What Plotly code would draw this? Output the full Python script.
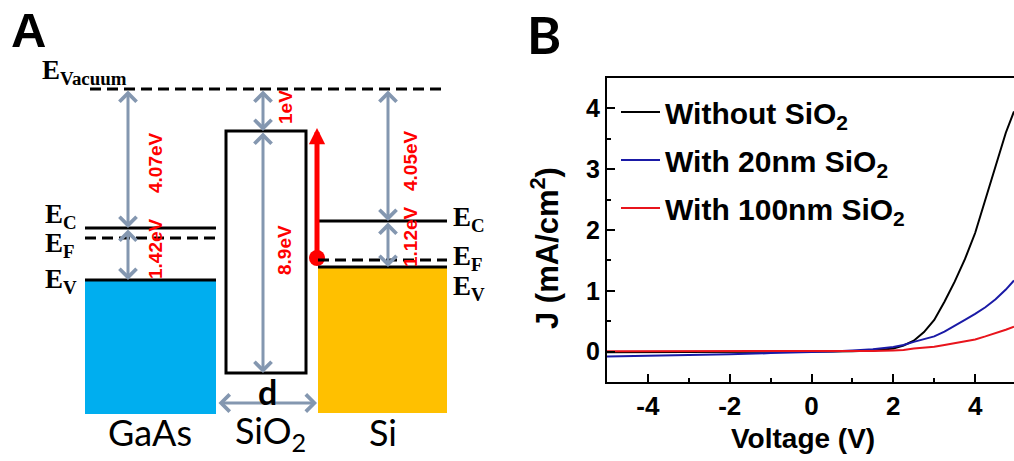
import plotly.graph_objects as go

W, H = 1014, 461

# ---------------- Panel B data (J-V curves) ----------------
voltage = [-5, -4, -3, -2, -1, 0, 0.5, 1, 1.5, 2, 2.25, 2.5, 2.75, 3, 3.25, 3.5, 3.75, 4, 4.25, 4.5, 4.75, 4.95]
j_without = [-0.01, -0.01, -0.01, -0.01, 0, 0, 0, 0.005, 0.02, 0.05, 0.1, 0.18, 0.32, 0.52, 0.82, 1.15, 1.52, 1.95, 2.5, 3.07, 3.6, 3.95]
j_20nm = [-0.08, -0.07, -0.06, -0.045, -0.025, -0.01, 0, 0.02, 0.04, 0.075, 0.11, 0.16, 0.2, 0.25, 0.33, 0.42, 0.52, 0.62, 0.73, 0.86, 1.02, 1.17]
j_100nm = [0.005, 0.005, 0.005, 0.0, 0.0, 0.0, 0.0, 0.005, 0.01, 0.02, 0.025, 0.05, 0.06, 0.08, 0.11, 0.14, 0.17, 0.2, 0.25, 0.3, 0.36, 0.41]
series_names = ["Without SiO<sub>2</sub>", "With 20nm SiO<sub>2</sub>", "With 100nm SiO<sub>2</sub>"]
series_colors = ["#000000", "#1a1aa6", "#e8141c"]
x_tickvals = [-4, -2, 0, 2, 4]
x_ticktext = ["-4", "-2", "0", "2", "4"]
y_tickvals = [0, 1, 2, 3, 4]
y_ticktext = ["0", "1", "2", "3", "4"]

# ---------------- Panel A data (schematic band diagram, drawing units) ----------------
materials = ["GaAs", "SiO<sub>2</sub>", "Si"]
mat_left = [85, 226, 318]
mat_right = [216, 306, 447]
level_ec = [228, 131, 221]
level_ev = [280, 373, 267]
level_ef = [238, None, 260]
level_vacuum = 89
block_bottom = [414, None, 413]
block_colors = ["#00aeef", None, "#ffc000"]
gap_arrow_x = [128, 263, 388]
affinity_labels = ["4.07eV", "1eV", "4.05eV"]
affinity_label_pos = [(155, 163), (285, 107), (410, 161)]
gap_labels = ["1.42eV", "8.9eV", "1.12eV"]
gap_label_pos = [(155, 249), (284, 250), (410, 237)]
mat_label_x = [150, 270, 383]
mat_label_y = 432
d_arrow_y = 403
hole_x, hole_y, hole_top = 317, 258, 128

SERIF = "Liberation Serif, Times New Roman, serif"
SANS = "Liberation Sans, Arial, sans-serif"
GRAY = "#8497b0"

fig = go.Figure()

for name, col, js in zip(series_names, series_colors, [j_without, j_20nm, j_100nm]):
    fig.add_trace(go.Scatter(x=voltage, y=js, mode="lines", name=name, legendgroup=name,
                             line=dict(color=col, width=2), xaxis="x", yaxis="y"))

# red dot (hole) in panel A
fig.add_trace(go.Scatter(x=[hole_x], y=[hole_y], mode="markers", showlegend=False,
                         marker=dict(color="#ff0000", size=16), xaxis="x2", yaxis="y2"))

shapes = []
annotations = []

def px_x(p):
    return p / W

def px_y(p):
    return 1 - p / H

# blocks (filled)
for i in range(3):
    if block_colors[i]:
        shapes.append(dict(type="rect", xref="x2", yref="y2", x0=mat_left[i], x1=mat_right[i],
                           y0=level_ev[i], y1=block_bottom[i], fillcolor=block_colors[i],
                           line=dict(width=0), layer="below"))
# SiO2 box
shapes.append(dict(type="rect", xref="x2", yref="y2", x0=mat_left[1], x1=mat_right[1],
                   y0=level_ec[1], y1=level_ev[1], line=dict(color="black", width=3)))
# vacuum level
shapes.append(dict(type="line", xref="x2", yref="y2", x0=90, x1=mat_right[2], y0=level_vacuum,
                   y1=level_vacuum, line=dict(color="black", width=3, dash="11px,6px")))
for i in [0, 2]:
    shapes.append(dict(type="line", xref="x2", yref="y2", x0=mat_left[i], x1=mat_right[i],
                       y0=level_ec[i], y1=level_ec[i], line=dict(color="black", width=3)))
    shapes.append(dict(type="line", xref="x2", yref="y2", x0=mat_left[i], x1=mat_right[i],
                       y0=level_ev[i], y1=level_ev[i], line=dict(color="black", width=3)))
    shapes.append(dict(type="line", xref="x2", yref="y2", x0=mat_left[i], x1=mat_right[i],
                       y0=level_ef[i], y1=level_ef[i], line=dict(color="black", width=3, dash="11px,6px")))

def arrow2(x0, y0, x1, y1, color=GRAY, width=3, size=1.1, head=4, side="end+start"):
    annotations.append(dict(xref="x2", yref="y2", axref="x2", ayref="y2", x=x1, y=y1, ax=x0, ay=y0,
                            text="", showarrow=True, arrowhead=head, startarrowhead=head,
                            arrowside=side, arrowwidth=width, arrowsize=size,
                            startarrowsize=size, arrowcolor=color))

for i in range(3):
    arrow2(gap_arrow_x[i], level_vacuum, gap_arrow_x[i], level_ec[i])
    arrow2(gap_arrow_x[i], level_ec[i], gap_arrow_x[i], level_ev[i])
# d arrow
arrow2(mat_right[0] + 1, d_arrow_y, mat_left[2] - 1, d_arrow_y)
# red hole arrow
arrow2(hole_x, hole_y, hole_x, hole_top, color="#ff0000", width=5, size=0.65, head=2, side="end")

for lab, (x, y) in zip(affinity_labels + gap_labels, affinity_label_pos + gap_label_pos):
    annotations.append(dict(xref="x2", yref="y2", x=x, y=y, text=lab, showarrow=False, textangle=-90,
                            xanchor="center", yanchor="middle",
                            font=dict(family=SANS, size=19, color="#ff0000", weight="bold")))

def elabel(x, y, sub, anchor="left"):
    annotations.append(dict(xref="x2", yref="y2", x=x, y=y, text="E<sub>%s</sub>" % sub, showarrow=False,
                            xanchor=anchor, yanchor="middle",
                            font=dict(family=SERIF, size=27, color="black", weight="bold")))

elabel(40, 72, "Vacuum")
elabel(43, 216, "C")
elabel(43, 245, "F")
elabel(43, 281, "V")
elabel(451, 219, "C")
elabel(451, 258, "F")
elabel(451, 288, "V")

for lab, x in zip(materials, mat_label_x):
    annotations.append(dict(xref="x2", yref="y2", x=x, y=mat_label_y, text=lab, showarrow=False,
                            xanchor="center", yanchor="middle",
                            font=dict(family="Lato, Open Sans, sans-serif", size=36, color="black")))
annotations.append(dict(xref="x2", yref="y2", x=267, y=391, text="d", showarrow=False,
                        xanchor="center", yanchor="middle",
                        font=dict(family="Lato, sans-serif", size=34, color="black", weight="bold")))

def paper_text(x, y, text, size, family=SANS, angle=0):
    annotations.append(dict(xref="paper", yref="paper", x=px_x(x), y=px_y(y), text=text, showarrow=False,
                            xanchor="center", yanchor="middle", textangle=angle,
                            font=dict(family=family, size=size, color="black", weight="bold")))

# panel letters
paper_text(28, 30, "A", 49)
paper_text(544, 34, "B", 52, family="Lato, " + SANS)
# panel B axis titles
paper_text(803, 438, "Voltage (V)", 28)
paper_text(545, 248, "J (mA/cm<sup>2</sup>)", 31, angle=-90)

fig.update_layout(
    width=W, height=H, margin=dict(l=0, r=0, t=0, b=0),
    paper_bgcolor="white", plot_bgcolor="white",
    shapes=shapes, annotations=annotations,
    showlegend=True,
    legend=dict(x=px_x(616), y=px_y(86), xanchor="left", yanchor="top", bgcolor="rgba(0,0,0,0)",
                tracegroupgap=6, font=dict(family=SANS, size=30, color="black", weight="bold"),
                itemwidth=39),
    xaxis=dict(domain=[px_x(607), 1.0], range=[-5, 4.95], tickvals=x_tickvals, ticktext=x_ticktext,
               ticks="inside", ticklen=8, tickwidth=2, tickcolor="black",
               minor=dict(dtick=1, ticks="inside", ticklen=4, tickwidth=2, tickcolor="black"),
               showline=True, linecolor="black", linewidth=2, mirror=True, showgrid=False, zeroline=False,
               tickfont=dict(family=SANS, size=26, color="black", weight="bold"), anchor="y"),
    yaxis=dict(domain=[px_y(382), px_y(78)], range=[-0.5, 4.5], tickvals=y_tickvals, ticktext=y_ticktext,
               ticks="inside", ticklen=8, tickwidth=2, tickcolor="black",
               minor=dict(dtick=0.5, ticks="inside", ticklen=4, tickwidth=2, tickcolor="black"),
               showline=True, linecolor="black", linewidth=2, showgrid=False, zeroline=False,
               tickfont=dict(family=SANS, size=25, color="black", weight="bold"), anchor="x"),
    xaxis2=dict(domain=[0, px_x(497)], range=[0, 497], visible=False, anchor="y2"),
    yaxis2=dict(domain=[0, 1], range=[H, 0], visible=False, anchor="x2"),
)

fig.write_html("out.html")
